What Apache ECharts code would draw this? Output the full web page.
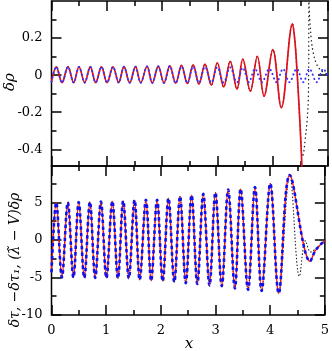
<!DOCTYPE html>
<html><head><meta charset="utf-8">
<script src="https://cdn.jsdelivr.net/npm/echarts@6/dist/echarts.min.js"></script>
<style>html,body{margin:0;padding:0;background:#fff}#c{width:332px;height:351px}</style>
</head><body><div id="c"></div>
<script>
// ---- tick labels ----
const xTickLabels = [0, 1, 2, 3, 4, 5];
const topMajorTicks = [-0.4, -0.2, 0, 0.2];
const topMinorTicks = [-0.3, -0.1, 0.1, 0.3];
const botMajorTicks = [-10, -5, 0, 5];
const botMinorTicks = [-7.5, -2.5, 2.5, 7.5];

// ---- x positions of the oscillation extrema ----
const oscX = [0, 0.087, 0.190, 0.298, 0.401, 0.497, 0.600, 0.702, 0.799, 0.904, 1.004,
  1.112, 1.215, 1.311, 1.414, 1.519, 1.613, 1.727, 1.823, 1.931, 2.034,
  2.139, 2.246, 2.351, 2.456, 2.562, 2.667, 2.776, 2.890, 2.998, 3.114,
  3.231, 3.354, 3.459, 3.595, 3.722, 3.843, 4.002, 4.156, 4.358];

// ---- bottom panel: delta tau (red), -delta tau_1 (blue), (lambda~ - V) delta rho (black) ----
const botOscY = [-4.3, 5.0, -5.0, 5.0, -5.0, 5.05, -5.05, 5.05, -5.05, 5.1, -5.05,
  5.15, -5.1, 5.2, -5.1, 5.3, -5.3, 5.35, -5.45, 5.35, -5.5,
  5.55, -5.6, 5.8, -5.75, 5.95, -5.85, 6.15, -6.05, 6.3, -6.15,
  6.7, -6.45, 6.8, -6.65, 7.05, -6.8, 7.5, -7.1, 8.65];
const botTailX = [4.608, 4.73, 4.82, 4.91, 5.0];
const botTailY = [-5.05, -2.85, -1.5, -0.7, -0.1];
const botBlackTailX = [4.535, 4.645, 4.74, 4.86, 5.0];
const botBlackTailY = [-4.85, -0.1, -1.6, -1.0, -0.15];

// ---- top panel: delta rho ----
const topOscY = [-0.036, 0.045, -0.040, 0.045, -0.040, 0.045, -0.040, 0.045, -0.040, 0.045, -0.040,
  0.045, -0.040, 0.046, -0.041, 0.046, -0.041, 0.047, -0.042, 0.048, -0.042,
  0.050, -0.043, 0.053, -0.045, 0.056, -0.048, 0.060, -0.054, 0.067, -0.064,
  0.075, -0.075, 0.086, -0.086, 0.102, -0.113, 0.138, -0.176, 0.277];
const topRedTailX = [4.403, 4.434, 4.463, 4.494, 4.524, 4.55];
const topRedTailY = [0.18, 0.05, -0.095, -0.265, -0.46, -0.7];
const topBlackTailX = [4.403, 4.434, 4.463, 4.49, 4.512, 4.535, 4.558, 4.584, 4.626, 4.644, 4.651,
  4.6535, 4.6545, 4.657, 4.663, 4.675, 4.698, 4.734, 4.796, 4.886, 5.0];
const topBlackTailY = [0.18, 0.05, -0.095, -0.25, -0.37, -0.44, -0.42, -0.355, -0.233, -0.122, 0.03,
  0.5, 0.5, 0.4, 0.34, 0.281, 0.192, 0.12, 0.058, 0.022, 0.004];
const topBlueOscY = [-0.036, 0.045, -0.040, 0.045, -0.040, 0.045, -0.040, 0.045, -0.040, 0.045, -0.040,
  0.045, -0.040, 0.046, -0.041, 0.046, -0.041, 0.047, -0.042, 0.048, -0.042,
  0.050, -0.043, 0.047, -0.042, 0.046, -0.041, 0.045, -0.040, 0.043, -0.040,
  0.042, -0.039, 0.040];
const topBlueTailX = [3.57, 3.68, 3.805, 3.939, 4.07, 4.186, 4.302, 4.434, 4.553, 4.665, 4.796, 4.915, 5.0];
const topBlueTailY = [-0.038, 0.034, -0.038, 0.034, -0.038, 0.034, -0.038, 0.034, -0.038, 0.034, -0.038, 0.034, -0.01];

function zip(xs, ys) { return xs.slice(0, ys.length).map((x, i) => [x, ys[i]]); }

const FONT = 'DejaVu Serif';
const black = '#000';
const tickStyle = { color: black, width: 1.5 };

function xAxes(grid, showLabels) {
  const base = {
    type: 'value', gridIndex: grid, min: xTickLabels[0], max: xTickLabels[xTickLabels.length - 1], interval: 1,
    splitLine: { show: false }, axisLine: { show: false, onZero: false },
    axisTick: { show: true, inside: true, length: 10, lineStyle: tickStyle },
    minorTick: { show: true, splitNumber: 2, length: 5, lineStyle: tickStyle }
  };
  return [
    Object.assign({}, base, { position: 'bottom', axisLabel: { show: showLabels, margin: 9, color: black, fontFamily: FONT, fontSize: 13 } }),
    Object.assign({}, base, { position: 'top', axisLabel: { show: false } })
  ];
}
function yAxes(grid, min, max, major, minor) {
  const base = { type: 'value', gridIndex: grid, min: min, max: max, splitLine: { show: false }, axisLine: { show: false, onZero: false } };
  const mk = (pos, vals, len, lab) => Object.assign({}, base, {
    position: pos,
    axisTick: { show: true, inside: true, length: len, customValues: vals, lineStyle: tickStyle },
    axisLabel: { show: lab, customValues: vals, margin: 9, color: black, fontFamily: FONT, fontSize: 13 }
  });
  return [mk('left', major, 10, true), mk('left', minor, 5, false), mk('right', major, 10, false), mk('right', minor, 5, false)];
}

const chart = echarts.init(document.getElementById('c'), null, { renderer: 'canvas' });
const dotted = (c, w, gap) => ({ color: c, width: w, type: [0.4, gap], cap: 'round' });
const S = 0.36;
const line = (xi, yi, data, ls, z) => ({ type: 'line', xAxisIndex: xi, yAxisIndex: yi, data: data, showSymbol: false, symbol: 'none', smooth: S, lineStyle: ls, z: z, clip: true, animation: false });

const botMain = zip(oscX, botOscY).concat(zip(botTailX.slice(1), botTailY.slice(1)));
const botBlack = zip(oscX, botOscY).concat(zip(botBlackTailX, botBlackTailY));
const topRed = zip(oscX, topOscY).concat(zip(topRedTailX, topRedTailY));
const topBlack = zip(oscX, topOscY).concat(zip(topBlackTailX, topBlackTailY));
const topBlue = zip(oscX, topBlueOscY).concat(zip(topBlueTailX, topBlueTailY));

chart.setOption({
  animation: false,
  grid: [
    { left: 51.5, top: 1, width: 276.5, height: 165, show: true, borderColor: black, borderWidth: 1.5, backgroundColor: 'transparent' },
    { left: 51.5, top: 166, width: 276.5, height: 149, show: true, borderColor: black, borderWidth: 1.5, backgroundColor: 'transparent' }
  ],
  xAxis: xAxes(0, false).concat(xAxes(1, true)),
  yAxis: yAxes(0, -0.49, 0.4, topMajorTicks, topMinorTicks).concat(yAxes(1, -10, 9.85, botMajorTicks, botMinorTicks)),
  series: [
    line(0, 0, topBlack, dotted('#222', 1.3, 3.8), 2),
    line(0, 0, topRed, { color: '#e0101a', width: 1.7 }, 3),
    line(0, 0, topBlue, dotted('#3535ff', 1.9, 4), 4),
    line(2, 4, botBlack, dotted('#222', 1.2, 3), 2),
    line(2, 4, botMain, { color: '#ff1010', width: 1.3 }, 3),
    line(2, 4, botMain, { color: '#1010ee', width: 2.6, type: [3.5, 3] }, 4)
  ],
  graphic: [
    { type: 'text', x: 10, y: 82, rotation: Math.PI / 2, style: { text: 'δρ', align: 'center', verticalAlign: 'middle', font: 'italic 15px "DejaVu Serif"', fill: black } },
    { type: 'text', x: 15, y: 260, rotation: Math.PI / 2, style: { text: 'δτ, −δτ₁, (λ̃ − V)δρ', align: 'center', verticalAlign: 'middle', font: 'italic 14px "DejaVu Serif"', fill: black } },
    { type: 'text', x: 189, y: 344, style: { text: 'x', align: 'center', verticalAlign: 'middle', font: 'italic 15px "DejaVu Serif"', fill: black } }
  ]
});
</script></body></html>
